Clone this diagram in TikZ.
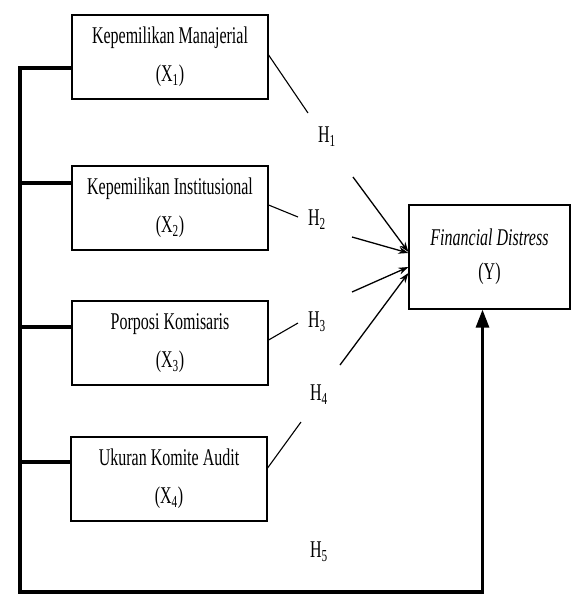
\documentclass[tikz,border=0pt]{standalone}
\usepackage{fontspec}
\setmainfont{Liberation Serif}
\usepackage{graphicx}
\usetikzlibrary{arrows.meta}

\newcommand{\vtxt}[1]{\scalebox{1}[1.5]{#1}}

\tikzset{
  var/.style={draw, line width=1.2pt, minimum width=196pt, minimum height=84pt,
    align=center, font=\fontsize{16}{38}\selectfont},
  hyp/.style={inner sep=0pt, font=\fontsize{16}{19}\selectfont},
  link/.style={line width=1.1pt},
  effect/.style={line width=1.3pt, -{Stealth[length=10pt,width=7pt]}},
  bracket/.style={line width=4pt},
}

\begin{document}
\begin{tikzpicture}[x=1pt, y=-1pt]
  \useasboundingbox (0,0) rectangle (576,595);

  % Variabel independen
  \node[var] (X1) at (170,57) {\vtxt{Kepemilikan Manajerial}\\\vtxt{(X\textsubscript{1})}};
  \node[var] (X2) at (170,208) {\vtxt{Kepemilikan Institusional}\\\vtxt{(X\textsubscript{2})}};
  \node[var] (X3) at (170,343) {\vtxt{Porposi Komisaris}\\\vtxt{(X\textsubscript{3})}};
  \node[var] (X4) at (169,479) {\vtxt{Ukuran Komite Audit}\\\vtxt{(X\textsubscript{4})}};

  % Variabel dependen
  \node[var, minimum width=161pt, minimum height=104pt, font=\fontsize{16}{34}\selectfont]
    (Y) at (489.5,257) {\vtxt{\textit{Financial Distress}}\\\vtxt{(Y)}};

  % Hipotesis
  \node[hyp] (H1) at (327,137) {\vtxt{H\textsubscript{1}}};
  \node[hyp] (H2) at (317,220) {\vtxt{H\textsubscript{2}}};
  \node[hyp] (H3) at (317,322) {\vtxt{H\textsubscript{3}}};
  \node[hyp] (H4) at (319,395) {\vtxt{H\textsubscript{4}}};
  \node[hyp] (H5) at (319,552) {\vtxt{H\textsubscript{5}}};

  % Garis ke hipotesis
  \draw[link] ([yshift=2pt]X1.east) -- ([shift={(-19,-24)}]H1.center);
  \draw[link] ([yshift=3pt]X2.east) -- ([shift={(-19,-3)}]H2.center);
  \draw[link] ([yshift=3pt]X3.east) -- ([shift={(-19,1)}]H3.center);
  \draw[link] ([yshift=11pt]X4.east) -- ([shift={(-18,27)}]H4.center);

  % Panah ke Y
  \draw[effect] ([shift={(26,40)}]H1.center) -- ([yshift=5pt]Y.west);
  \draw[effect] ([shift={(35,17)}]H2.center) -- ([yshift=4pt]Y.west);
  \draw[effect] ([shift={(35,-30)}]H3.center) -- ([yshift=-10pt]Y.west);
  \draw[effect] ([shift={(21,-30)}]H4.center) -- ([yshift=-16pt]Y.west);

  % Pengaruh simultan (H5)
  \coordinate (bot) at (20,592);
  \coordinate (tip) at ([xshift=-7pt]Y.south);
  \draw[bracket] ([yshift=-11pt]X1.west) -| (bot) -- (bot -| tip);
  \foreach \b/\s in {X2/25, X3/16, X4/17}
    \draw[bracket] ([yshift=\s pt]\b.west) -- ++(-52,0);
  \draw[line width=3pt, -{Triangle[length=18pt,width=13pt]}] ([yshift=-2pt]tip |- bot) -- (tip);
\end{tikzpicture}
\end{document}
